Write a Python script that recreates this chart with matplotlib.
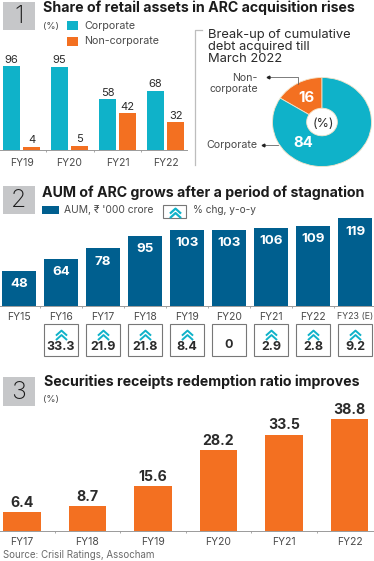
import matplotlib
matplotlib.use("Agg")
import matplotlib.pyplot as plt
from matplotlib.patches import Rectangle
from matplotlib.path import Path

plt.rcParams['font.family'] = ['Inter', 'DejaVu Sans']

W, H = 374, 561
TEAL = '#0fb2c9'
ORANGE = '#f37021'
NAVY = '#005f8f'
GREY = '#c6c7c9'
TEXT = '#2b2b2b'
SOFT = '#4a4a4a'

# panel 1
years1 = ['FY19', 'FY20', 'FY21', 'FY22']
corporate = [96, 95, 58, 68]
non_corporate = [4, 5, 42, 32]
pie_values = [16, 84]

# panel 2
years2 = ['FY15', 'FY16', 'FY17', 'FY18', 'FY19', 'FY20', 'FY21', 'FY22', 'FY23 (E)']
aum = [48, 64, 78, 95, 103, 103, 106, 109, 119]
chg = [33.3, 21.9, 21.8, 8.4, 0, 2.9, 2.8, 9.2]

# panel 3
years3 = ['FY17', 'FY18', 'FY19', 'FY20', 'FY21', 'FY22']
ratio = [6.4, 8.7, 15.6, 28.2, 33.5, 38.8]

chevron = Path([(-1, -0.2), (0, 0.7), (1, -0.2), (-1, -1), (0, -0.1), (1, -1)],
               [Path.MOVETO, Path.LINETO, Path.LINETO, Path.MOVETO, Path.LINETO, Path.LINETO])


def axes_px(l, t, r, b):
    ax = fig.add_axes([l / W, 1 - b / H, (r - l) / W, (b - t) / H])
    ax.patch.set_alpha(0)
    return ax


def style_bars(ax, labels, pos, size=7.5, pad=4.5):
    for s in ['top', 'left', 'right']:
        ax.spines[s].set_visible(False)
    ax.spines['bottom'].set_color('#9a9a9a')
    ax.spines['bottom'].set_linewidth(0.7)
    ax.set_yticks([])
    ax.set_xticks(pos)
    ax.set_xticklabels(labels, fontsize=size, color=SOFT)
    ax.set_xticks([p + 0.5 for p in pos[:-1]], minor=True)
    ax.tick_params(axis='x', which='major', length=0, pad=pad)
    ax.tick_params(axis='x', which='minor', length=1.5, color='#9a9a9a', width=0.6)


fig = plt.figure(figsize=(W / 100, H / 100), dpi=100, facecolor='white')

bg = fig.add_axes([0, 0, 1, 1])
bg.set_xlim(0, W)
bg.set_ylim(H, 0)
bg.axis('off')

# numbered headers
for num, top, bottom, tx, ty, title in [
    ('1', 2, 30, 43, 7.5, 'Share of retail assets in ARC acquisition rises'),
    ('2', 186, 214, 42, 192.5, 'AUM of ARC grows after a period of stagnation'),
    ('3', 377, 406, 44.5, 382, 'Securities receipts redemption ratio improves'),
]:
    bg.add_patch(Rectangle((3, top), 32, bottom - top, fc=GREY, ec='none'))
    bg.text(19, (top + bottom) / 2 + 0.5, num, fontsize=18, fontweight='light', color='#1c1c1c',
            ha='center', va='center')
    bg.text(tx, ty, title, fontsize=10.2, fontweight='bold', color='#1c1c1c', va='center')

# panel 1 legend
bg.text(43, 26.5, '(%)', fontsize=6.8, color=SOFT, va='center')
bg.add_patch(Rectangle((67, 21), 11, 9, fc=TEAL, ec='none'))
bg.text(84, 25.5, 'Corporate', fontsize=7.7, color=SOFT, va='center')
bg.add_patch(Rectangle((67, 37), 11, 8.5, fc=ORANGE, ec='none'))
bg.text(84, 41, 'Non-corporate', fontsize=7.7, color=SOFT, va='center')

# panel 1 bars
ax1 = axes_px(0, 60, 187, 150)
pos1 = list(range(len(years1)))
b1 = ax1.bar([p - 0.21 for p in pos1], corporate, 0.365, color=TEAL)
b2 = ax1.bar([p + 0.21 for p in pos1], non_corporate, 0.365, color=ORANGE)
ax1.bar_label(b1, fontsize=8, color=TEXT, padding=1)
ax1.bar_label(b2, fontsize=8, color=TEXT, padding=1)
ax1.set_xlim(-0.448, 3.448)
ax1.set_ylim(0, 90 / 0.875)
style_bars(ax1, years1, pos1, pad=5.5)

# panel 1 donut
bg.plot([202, 195, 195], [30, 30, 165], color='#bdbdbd', lw=0.9)
bg.text(208, 46.5, 'Break-up of cumulative\ndebt acquired till\nMarch 2022', fontsize=9.3,
        color=TEXT, va='center', linespacing=1.0)
ax_pie = axes_px(272.5, 77.5, 371.5, 166.5)
ax_pie.pie(pie_values, colors=[ORANGE, TEAL], startangle=90, radius=1,
           wedgeprops=dict(width=0.69, edgecolor='#f4e3c8', linewidth=0.6))
ax_pie.set_aspect('auto')
ax_pie.set_xlim(-1, 1)
ax_pie.set_ylim(-1, 1)
bg.text(306, 97.5, str(pie_values[0]), fontsize=10.8, fontweight='bold', color='white', ha='center', va='center', zorder=5)
bg.text(303, 143, str(pie_values[1]), fontsize=10.8, fontweight='bold', color='white', ha='center', va='center', zorder=5)
bg.set_zorder(3)
bg.patch.set_alpha(0)
bg.text(323, 123.5, '(%)', fontsize=9, color=TEXT, ha='center', va='center')
bg.text(258, 83.5, 'Non-\ncorporate', fontsize=7.6, color=SOFT, ha='right', va='center', linespacing=1.05)
bg.text(258, 145, 'Corporate', fontsize=7.7, color=SOFT, ha='right', va='center')
bg.plot([298, 298, 268], [84, 77, 77], color='#666666', lw=0.6)
bg.plot([268], [77], marker='<', ms=2, color='#222222')
bg.plot([278, 263], [145, 145], color='#666666', lw=0.6)
bg.plot([263], [145], marker='<', ms=2, color='#222222')

# panel 2 legend
bg.add_patch(Rectangle((42, 205.5), 17, 8.5, fc=NAVY, ec='none'))
bg.text(64, 210, "AUM, ₹ '000 crore", fontsize=7.4, color=SOFT, va='center')
bg.add_patch(Rectangle((163.5, 204.5), 22.5, 13.5, fc='white', ec='#777777', lw=0.8))
bg.plot([175], [211.5], marker=chevron, ms=8, mfc='none', mec=TEAL, mew=1.6, ls='none')
bg.text(193.5, 210, '% chg, y-o-y', fontsize=7.3, color=SOFT, va='center')

# panel 2 bars
ax2 = axes_px(0, 210, 374, 306)
pos2 = list(range(len(years2)))
b3 = ax2.bar(pos2, aum, 0.8, color=NAVY)
ax2.bar_label(b3, fontsize=9.6, fontweight='bold', color='white', padding=-14)
ax2.set_xlim(-19 / 42, 355 / 42)
ax2.set_ylim(0, 96 / 0.738)
style_bars(ax2, years2, pos2)
ax2.get_xticklabels()[-1].set_fontsize(6.4)

# panel 2 y-o-y boxes
ax_box = axes_px(0, 324, 374, 356)
ax_box.set_xlim(-19 / 42, 355 / 42)
ax_box.set_ylim(32, 0)
ax_box.axis('off')
for p, v in zip(pos2[1:], chg):
    ax_box.add_patch(Rectangle((p - 0.4, 0.4), 0.8, 31.2, fc='white', ec='#777777', lw=0.8, clip_on=False))
    if v > 0:
        ax_box.plot([p], [9.5], marker=chevron, ms=8, mfc='none', mec=TEAL, mew=1.4, ls='none')
        ax_box.text(p, 23, str(v), fontsize=9, fontweight='bold', color=TEXT, ha='center', va='center')
    else:
        ax_box.text(p, 21, str(v), fontsize=9, fontweight='bold', color=TEXT, ha='center', va='center')

# panel 3
bg.text(43, 399.5, '(%)', fontsize=6.8, color=SOFT, va='center')
ax3 = axes_px(0, 410, 374, 530.7)
pos3 = list(range(len(years3)))
b4 = ax3.bar(pos3, ratio, 0.57, color=ORANGE)
ax3.bar_label(b4, fontsize=10.2, fontweight='bold', color=TEXT, padding=1.5)
ax3.set_xlim(-22 / 65.5, (374 - 22) / 65.5)
ax3.set_ylim(0, 120.7 / 2.87)
style_bars(ax3, years3, pos3)

bg.text(3, 555.5, 'Source: Crisil Ratings, Assocham', fontsize=7, color='#6a6a6a', va='center')

fig.savefig('out.png', dpi=100)
